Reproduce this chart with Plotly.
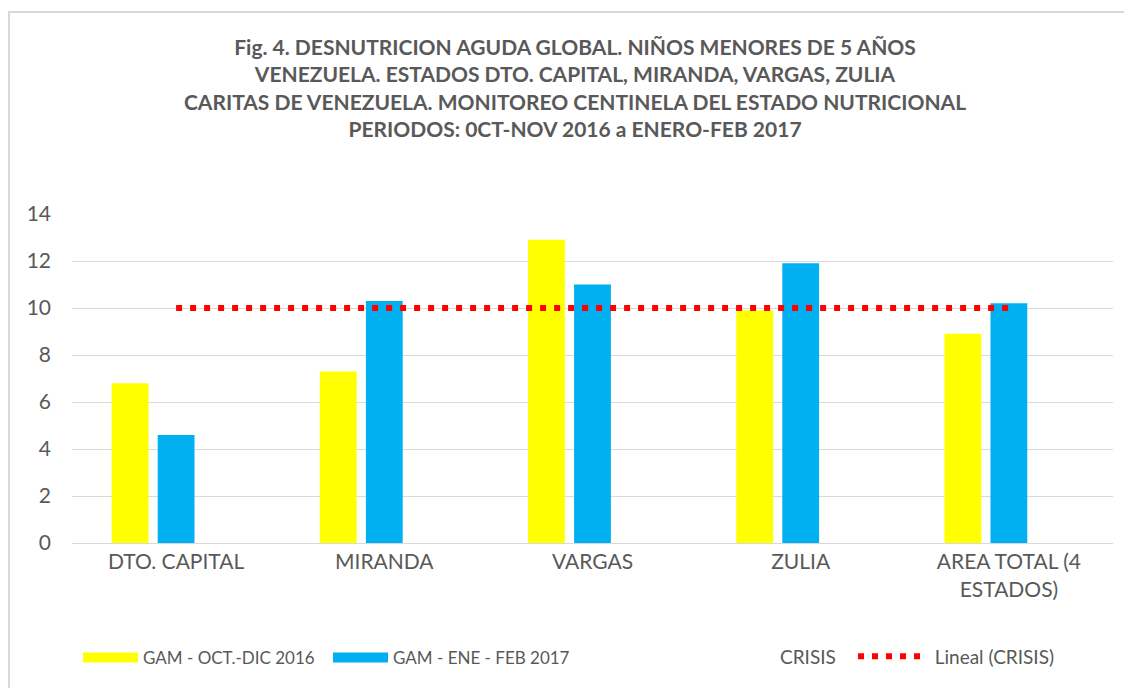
import numpy as np
import plotly.graph_objects as go

categories = ["DTO. CAPITAL", "MIRANDA", "VARGAS", "ZULIA", "AREA TOTAL (4<br>ESTADOS)"]
gam_oct_dic_2016 = [6.8, 7.3, 12.9, 9.9, 8.9]
gam_ene_feb_2017 = [4.6, 10.3, 11.0, 11.9, 10.2]
crisis = [10, 10, 10, 10, 10]

title_lines = [
    "Fig. 4. DESNUTRICION AGUDA GLOBAL. NIÑOS MENORES DE 5 AÑOS",
    "VENEZUELA. ESTADOS DTO. CAPITAL, MIRANDA, VARGAS, ZULIA",
    "CARITAS DE VENEZUELA. MONITOREO CENTINELA DEL ESTADO NUTRICIONAL",
    "PERIODOS: 0CT-NOV 2016 a ENERO-FEB 2017",
]

YELLOW = "#FFFF00"
BLUE = "#00B0F0"
TEXT = "#595959"
GRID = "#D9D9D9"
FONT = "Lato"

# linear trendline of CRISIS
idx = np.arange(len(crisis))
slope, intercept = np.polyfit(idx, crisis, 1)
trend = slope * idx + intercept

bar_line = dict(width=0)
fig = go.Figure()
fig.add_trace(go.Bar(x=categories, y=gam_oct_dic_2016, marker=dict(color=YELLOW, line=bar_line),
                     name="GAM - OCT.-DIC 2016", showlegend=False))
fig.add_trace(go.Bar(x=categories, y=gam_ene_feb_2017, marker=dict(color=BLUE, line=bar_line),
                     name="GAM - ENE - FEB 2017", showlegend=False))
fig.add_trace(go.Bar(x=categories, y=crisis, marker=dict(color="rgba(0,0,0,0)", line=bar_line),
                     name="CRISIS", showlegend=False, hoverinfo="skip"))
fig.add_trace(go.Scatter(x=categories, y=trend, mode="lines",
                         line=dict(color="#FF0000", width=6, dash="6px,8px"),
                         name="Lineal (CRISIS)", showlegend=False))

# legend entries
fig.add_trace(go.Scatter(x=[None], y=[None], mode="lines", name="GAM - OCT.-DIC 2016",
                         line=dict(color=YELLOW, width=14), legend="legend"))
fig.add_trace(go.Scatter(x=[None], y=[None], mode="lines", name="GAM - ENE - FEB 2017",
                         line=dict(color=BLUE, width=14), legend="legend"))
fig.add_trace(go.Scatter(x=[None], y=[None], mode="lines", name="CRISIS",
                         line=dict(color="rgba(0,0,0,0)", width=1), legend="legend2"))
fig.add_trace(go.Scatter(x=[None], y=[None], mode="lines", name="\u00a0\u00a0Lineal (CRISIS)",
                         line=dict(color="#FF0000", width=6, dash="6px,8px"), legend="legend3"))

W, H = 1132, 688
OFF = 8  # page body offset
PLOT_L, PLOT_R, PLOT_T, PLOT_B = 72 - OFF, 1113 - OFF, 214 - OFF, 543 - OFF


def px_x(p):
    return (p - OFF - PLOT_L) / (PLOT_R - PLOT_L)


def px_y(p):
    return (PLOT_B - (p - OFF)) / (PLOT_B - PLOT_T)


leg_common = dict(orientation="h", yanchor="top", y=px_y(640), xanchor="left",
                  itemwidth=55, font=dict(family=FONT, size=17, color=TEXT),
                  bgcolor="rgba(0,0,0,0)")

fig.update_layout(
    width=W, height=H,
    margin=dict(l=PLOT_L, r=W - PLOT_R, t=PLOT_T, b=H - PLOT_B),
    paper_bgcolor="white", plot_bgcolor="white",
    barmode="group", bargap=0.337, bargroupgap=0.2,
    font=dict(family=FONT, size=17, color=TEXT),
    title=dict(text="<br>".join(title_lines), x=(575 - OFF) / W, xanchor="center",
               xref="container", y=1 - (55 - OFF) / H, yanchor="top", yref="container",
               font=dict(family=FONT, size=21, color=TEXT, weight="bold")),
    legend=dict(leg_common, x=px_x(78), entrywidth=180),
    legend2=dict(leg_common, x=px_x(715), y=px_y(637.5),
                 font=dict(family=FONT, size=19, color=TEXT)),
    legend3=dict(leg_common, x=px_x(853), y=px_y(637.5), itemwidth=62,
                 font=dict(family=FONT, size=19, color=TEXT)),
    xaxis=dict(showline=True, linecolor=GRID, linewidth=1, ticks="", showgrid=False,
               automargin=False, tickfont=dict(size=21, color=TEXT)),
    yaxis=dict(range=[0, 14], dtick=2, showgrid=True, gridcolor=GRID, gridwidth=1,
               zeroline=False, ticks="", tickfont=dict(size=21, color=TEXT),
               ticklabelstandoff=20, automargin=False),
    shapes=[
        dict(type="line", xref="paper", yref="paper", x0=px_x(8), x1=px_x(1150),
             y0=px_y(12), y1=px_y(12), line=dict(color=GRID, width=2)),
        dict(type="line", xref="paper", yref="paper", x0=px_x(9), x1=px_x(9),
             y0=px_y(12), y1=px_y(700), line=dict(color=GRID, width=2)),
    ],
)

fig.write_html("out.html")
